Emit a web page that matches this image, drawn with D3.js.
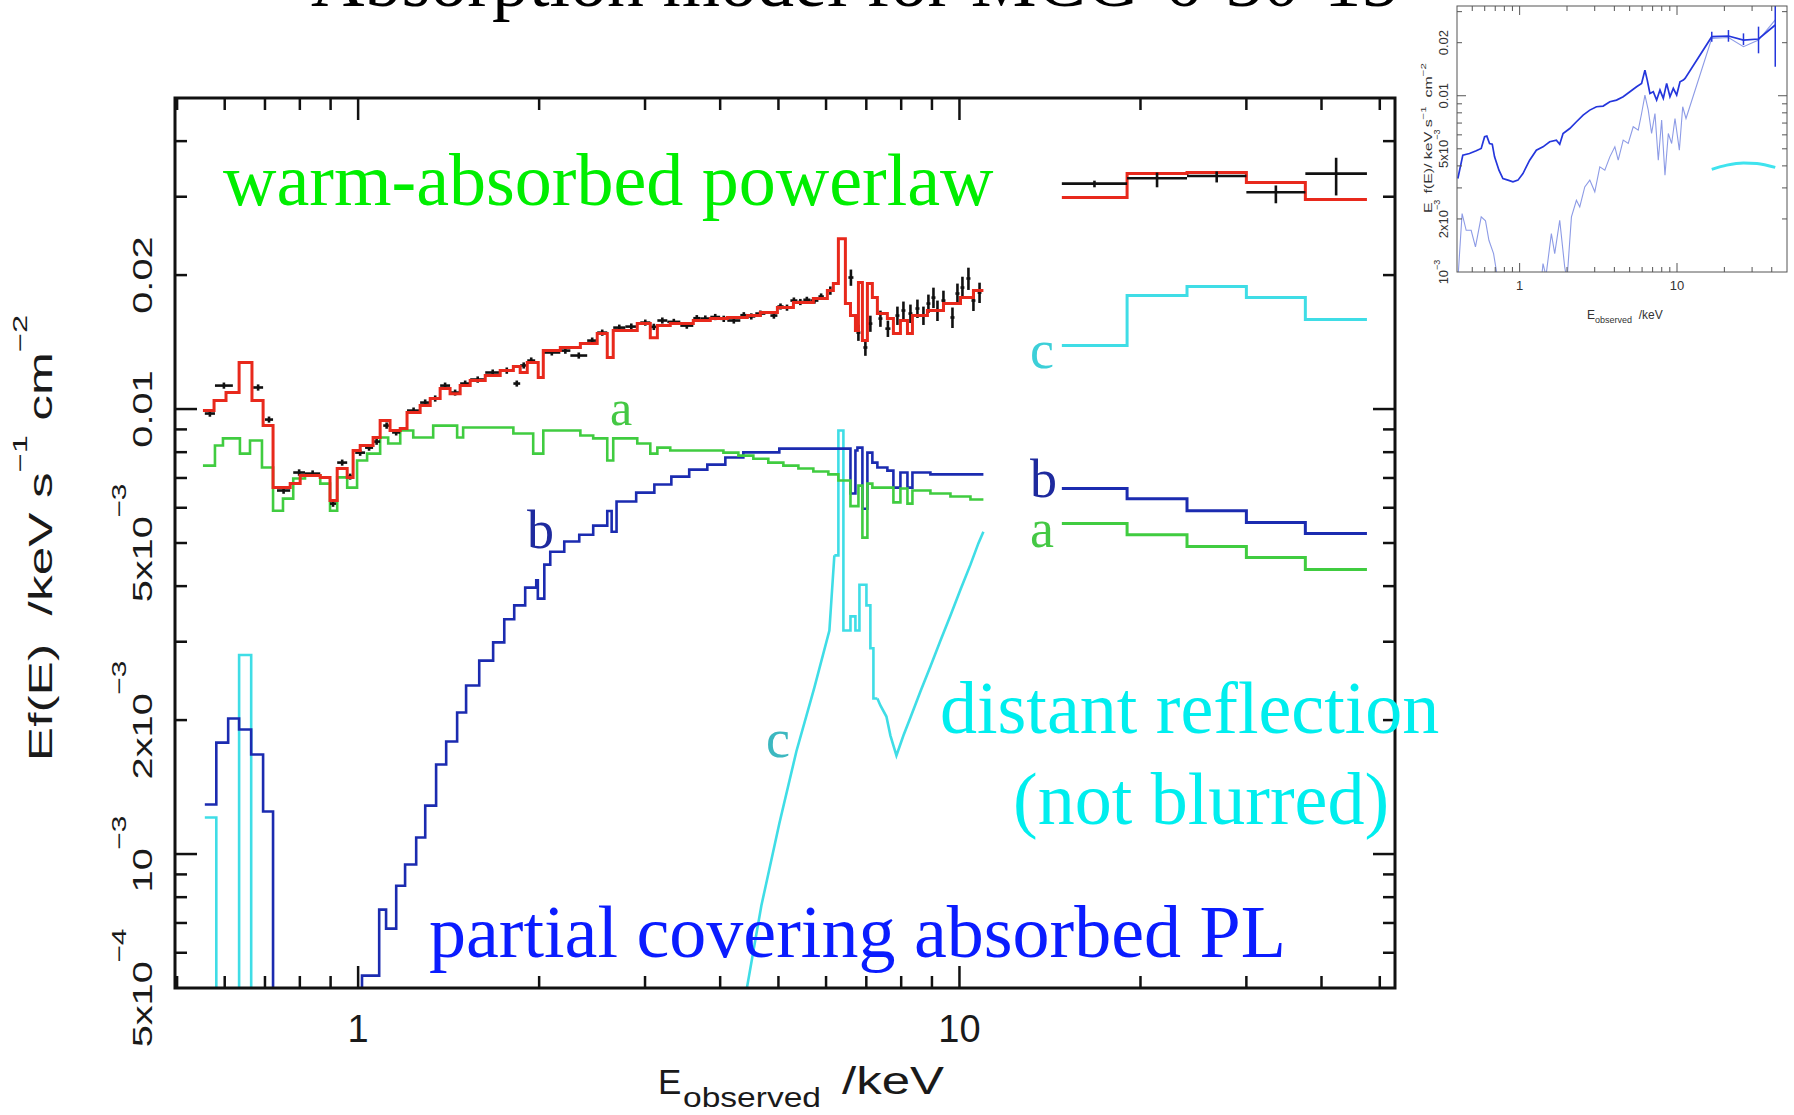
<!DOCTYPE html>
<html><head><meta charset="utf-8">
<script src="https://cdn.jsdelivr.net/npm/d3@7"></script>
<style>body{margin:0;background:#fff;overflow:hidden}svg{display:block;background:#fff}</style>
</head><body>
<svg id="c" width="1794" height="1115"></svg>
<script>
// ---------------- DATA (keV, keV s^-1 cm^-2) ----------------
const xTickVals = [1, 10];
const xTickLabels = ["1", "10"];
const yTickVals = [5e-4, 1e-3, 2e-3, 5e-3, 0.01, 0.02];
const yTickMant = ["5x10", "10", "2x10", "5x10", "0.01", "0.02"];
const yTickExp = ["\u22124", "\u22123", "\u22123", "\u22123", "", ""];

// total model (red), step bins [E_left, flux]; last point = right edge
const modelTotalXMM = [[0.552,0.00992],[0.576,0.01045],[0.603,0.01089],[0.634,0.01272],[0.666,0.01045],[0.695,0.00918],[0.722,0.00666],[0.771,0.00680],[0.801,0.00709],[0.865,0.00702],[0.898,0.00623],[0.923,0.00735],[0.959,0.00702],[0.981,0.00807],[1.008,0.00828],[1.059,0.00863],[1.088,0.00942],[1.130,0.00895],[1.175,0.00904],[1.206,0.00982],[1.268,0.01018],[1.318,0.01056],[1.369,0.01112],[1.422,0.01083],[1.478,0.01129],[1.536,0.01159],[1.627,0.01189],[1.723,0.01220],[1.812,0.01246],[1.860,0.01208],[1.911,0.01272],[1.993,0.01177],[2.032,0.01353],[2.169,0.01375],[2.342,0.01404],[2.498,0.01478],[2.596,0.01305],[2.656,0.01501],[2.912,0.01556],[3.061,0.01447],[3.145,0.01540],[3.304,0.01556],[3.609,0.01581],[3.852,0.01597],[4.111,0.01606],[4.438,0.01622],[4.665,0.01648],[4.980,0.01691],[5.295,0.01735],[5.715,0.01771],[6.030,0.01846],[6.170,0.01914],[6.290,0.02415],[6.461,0.01726],[6.588,0.01622],[6.714,0.01501],[6.792,0.01924],[6.896,0.01425],[7.029,0.01914],[7.164,0.01780],[7.303,0.01639],[7.588,0.01597],[7.765,0.01478],[7.977,0.01581],[8.194,0.01478],[8.352,0.01622],[8.846,0.01665],[9.406,0.01726],[10.04,0.01780],[10.55,0.01846],[10.96,0.01846]];
const modelTotalBAT = [[14.8,0.02988],[19.0,0.03382],[23.9,0.0340],[30.0,0.0323],[37.6,0.02956],[47.6,0.02956]];

// observed data [E_lo, E_hi, flux, flux error]
const dataXMM = [[0.556,0.578,0.00977,0.00016],[0.578,0.619,0.01129,0.00018],[0.669,0.695,0.01118,0.00018],[0.700,0.722,0.00947,0.00015],[0.733,0.771,0.00656,0.00011],[0.780,0.816,0.00720,0.00012],[0.816,0.865,0.00716,0.00012],[0.898,0.919,0.00613,0.00010],[0.923,0.959,0.00758,0.00012],[0.959,0.981,0.00705,0.00011],[0.989,1.027,0.00798,0.00013],[1.027,1.059,0.00819,0.00013],[1.059,1.088,0.00845,0.00014],[1.101,1.130,0.00918,0.00015],[1.139,1.175,0.00886,0.00014],[1.206,1.268,0.00992,0.00016],[1.268,1.318,0.01034,0.00017],[1.318,1.369,0.01056,0.00017],[1.369,1.422,0.01129,0.00018],[1.422,1.478,0.01089,0.00017],[1.478,1.536,0.01141,0.00018],[1.536,1.627,0.01165,0.00019],[1.627,1.723,0.01208,0.00019],[1.723,1.812,0.01220,0.00020],[1.812,1.860,0.01141,0.00018],[1.860,1.911,0.01253,0.00020],[1.911,1.970,0.01285,0.00021],[2.032,2.169,0.01340,0.00021],[2.169,2.254,0.01353,0.00022],[2.254,2.404,0.01319,0.00021],[2.404,2.498,0.01425,0.00023],[2.498,2.596,0.01485,0.00024],[2.656,2.782,0.01524,0.00024],[2.782,2.912,0.01532,0.00025],[2.946,3.061,0.01564,0.00025],[3.061,3.145,0.01530,0.00025],[3.145,3.267,0.01581,0.00025],[3.267,3.434,0.01570,0.00025],[3.434,3.609,0.01540,0.00025],[3.609,3.707,0.01600,0.00026],[3.707,3.852,0.01597,0.00026],[3.852,4.000,0.01610,0.00026],[4.000,4.111,0.01595,0.00026],[4.111,4.321,0.01581,0.00025],[4.321,4.438,0.01625,0.00026],[4.438,4.576,0.01615,0.00026],[4.576,4.756,0.01639,0.00026],[4.848,4.980,0.01622,0.00026],[4.980,5.100,0.01700,0.00027],[5.100,5.234,0.01690,0.00027],[5.234,5.376,0.01753,0.00028],[5.376,5.500,0.01740,0.00028],[5.500,5.650,0.01760,0.00028],[5.650,5.827,0.01753,0.00028],[5.827,5.950,0.01790,0.00029],[6.030,6.170,0.01846,0.00040],[6.536,6.663,0.01975,0.00083],[6.740,6.843,0.01485,0.00062],[6.922,7.029,0.01375,0.00058],[7.056,7.164,0.01556,0.00065],[7.333,7.445,0.01597,0.00067],[7.530,7.677,0.01516,0.00064],[7.826,7.946,0.01622,0.00077],[8.008,8.131,0.01665,0.00079],[8.226,8.352,0.01639,0.00078],[8.449,8.579,0.01682,0.00080],[8.646,8.778,0.01622,0.00077],[8.812,8.947,0.01726,0.00082],[8.983,9.122,0.01780,0.00094],[9.122,9.263,0.01665,0.00088],[9.333,9.478,0.01753,0.00092],[9.661,9.811,0.01606,0.00085],[9.847,10.00,0.01818,0.00096],[10.04,10.19,0.01875,0.00108],[10.27,10.43,0.01965,0.00113],[10.47,10.63,0.01753,0.00092],[10.72,10.88,0.01827,0.00096]];
// BAT data [E_lo, E_hi, flux, flux_low, flux_high]
const dataBAT = [[14.8,19.0,0.0321,0.0315,0.0326],[19.0,23.9,0.0330,0.0315,0.0340],[23.9,30.0,0.0334,0.0323,0.0342],[30.0,37.6,0.0307,0.0290,0.0318],[37.6,47.6,0.0338,0.0302,0.0367]];

// component a: warm-absorbed powerlaw (green)
const compA_XMM = [[0.552,0.00746],[0.578,0.00828],[0.596,0.00859],[0.636,0.00794],[0.661,0.00850],[0.692,0.00739],[0.722,0.00591],[0.750,0.00629],[0.780,0.00698],[0.816,0.00709],[0.865,0.00680],[0.898,0.00591],[0.923,0.00702],[0.959,0.00666],[0.996,0.00766],[1.035,0.00794],[1.088,0.00863],[1.122,0.00837],[1.175,0.00895],[1.235,0.00863],[1.333,0.00918],[1.461,0.00863],[1.495,0.00909],[1.812,0.00881],[1.955,0.00794],[2.032,0.00895],[2.342,0.00872],[2.460,0.00859],[2.596,0.00766],[2.656,0.00859],[2.912,0.00837],[3.061,0.00794],[3.145,0.00819],[3.304,0.00807],[4.050,0.00798],[4.289,0.00786],[4.542,0.00773],[4.810,0.00758],[5.095,0.00746],[5.397,0.00735],[5.715,0.00724],[6.053,0.00713],[6.290,0.00691],[6.588,0.00605],[6.792,0.00673],[6.896,0.00514],[7.029,0.00680],[7.164,0.00666],[7.765,0.00617],[7.977,0.00663],[8.194,0.00613],[8.352,0.00656],[8.947,0.00646],[9.661,0.00636],[10.43,0.00626],[10.96,0.00626]];
const compA_BAT = [[14.8,0.00553],[19.0,0.00522],[23.9,0.00491],[30.0,0.00464],[37.6,0.00436],[47.6,0.00436]];

// component b: partial covering absorbed PL (blue); 3e-4 = below the plotted range
const compB_low = [[0.556,1.292e-3],[0.581,1.780e-3],[0.608,2.016e-3],[0.634,1.905e-3],[0.664,1.674e-3],[0.695,1.246e-3],[0.722,3e-4]];
const compB_XMM = [[0.95,3e-4],[1.015,5.33e-4],[1.084,7.50e-4],[1.113,6.80e-4],[1.157,8.49e-4],[1.197,9.47e-4],[1.249,1.089e-3],[1.293,1.285e-3],[1.348,1.589e-3],[1.401,1.790e-3],[1.461,2.080e-3],[1.512,2.392e-3],[1.590,2.72e-3],[1.677,2.99e-3],[1.750,3.37e-3],[1.818,3.62e-3],[1.896,3.97e-3],[1.978,4.12e-3],[1.990,3.75e-3],[2.040,4.47e-3],[2.087,4.78e-3],[2.202,5.04e-3],[2.332,5.22e-3],[2.460,5.47e-3],[2.596,5.90e-3],[2.640,5.30e-3],[2.690,6.20e-3],[2.900,6.49e-3],[3.109,6.77e-3],[3.318,7.05e-3],[3.553,7.31e-3],[3.808,7.50e-3],[4.080,7.78e-3],[4.371,7.99e-3],[5.017,8.15e-3],[6.588,6.46e-3],[6.714,8.07e-3],[6.766,8.19e-3],[6.896,5.97e-3],[7.029,7.98e-3],[7.164,7.58e-3],[7.303,7.39e-3],[7.588,7.27e-3],[7.765,6.66e-3],[7.977,7.20e-3],[8.194,6.66e-3],[8.352,7.20e-3],[8.947,7.13e-3],[10.96,7.13e-3]];
const compB_BAT = [[14.8,0.00663],[19.0,0.00629],[23.9,0.00591],[30.0,0.00556],[37.6,0.00525],[47.6,0.00525]];

// component c: distant reflection (cyan)
const compC_low = [[0.556,1.208e-3],[0.581,3e-4],[0.634,2.80e-3],[0.664,3e-4]];
const compC_rise = [[4.20,3e-4],[4.371,4.5e-4],[4.684,7.66e-4],[5.017,1.171e-3],[5.355,1.700e-3],[5.737,2.366e-3],[6.077,3.18e-3],[6.194,4.69e-3]];
const compC_XMM = [[6.194,4.69e-3],[6.290,8.95e-3],[6.412,3.18e-3],[6.588,3.42e-3],[6.714,3.18e-3],[6.818,4.03e-3],[7.003,3.62e-3],[7.110,2.90e-3],[7.193,2.236e-3],[7.303,2.236e-3]];
const compC_fall = [[7.303,2.236e-3],[7.388,2.157e-3],[7.56,2.037e-3],[7.677,1.846e-3],[7.856,1.665e-3],[8.069,1.846e-3],[8.289,2.026e-3],[8.611,2.318e-3],[8.947,2.638e-3],[9.299,3.018e-3],[9.661,3.436e-3],[10.04,3.93e-3],[10.43,4.47e-3],[10.75,4.99e-3],[10.96,5.30e-3]];
const compC_BAT = [[14.8,0.01389],[19.0,0.01799],[23.9,0.01885],[30.0,0.01781],[37.6,0.01589],[47.6,0.01589]];

// inset (top right)
const insetXTicks = [1, 10];
const insetYTickVals = [1e-3, 2e-3, 5e-3, 0.01, 0.02];
const insetYTickMant = ["10", "2x10", "5x10", "0.01", "0.02"];
const insetYTickExp = ["\u22123", "\u22123", "\u22123", "", ""];
const insetTotal = [[0.405,0.00339],[0.4355,0.00460],[0.480,0.00470],[0.530,0.00487],[0.570,0.00502],[0.599,0.00585],[0.619,0.00590],[0.644,0.00536],[0.670,0.00531],[0.693,0.00450],[0.739,0.00378],[0.783,0.00339],[0.843,0.00332],[0.907,0.00325],[0.976,0.00332],[1.050,0.00362],[1.158,0.00431],[1.277,0.00491],[1.408,0.00513],[1.553,0.00548],[1.712,0.00560],[1.798,0.00531],[1.888,0.00611],[2.082,0.00652],[2.296,0.00712],[2.532,0.00777],[2.792,0.00829],[3.078,0.00866],[3.395,0.00874],[3.743,0.00924],[4.127,0.00945],[4.551,0.00987],[5.018,0.01054],[5.535,0.01125],[5.956,0.01175],[6.255,0.01398],[6.471,0.01227],[6.730,0.01031],[7.069,0.01054],[7.422,0.00945],[7.794,0.01077],[8.185,0.00966],[8.596,0.01175],[9.023,0.00987],[9.476,0.01101],[9.952,0.01009],[10.45,0.01201],[10.97,0.01227],[11.25,0.01255],[16.63,0.02163],[21.23,0.02183],[26.45,0.02071],[32.96,0.02099],[42.1,0.02520]];
const insetTotalErr = [[16.63,0.02026,0.02310],[21.23,0.02026,0.02359],[26.45,0.01939,0.02259],[32.96,0.01741,0.02466],[42.1,0.01462,0.0323]];
const insetFaintLow = [[0.405,9.0e-4],[0.431,2.145e-3],[0.4575,1.724e-3],[0.492,1.724e-3],[0.524,1.387e-3],[0.570,2.053e-3],[0.607,1.95e-3],[0.638,1.513e-3],[0.683,1.271e-3],[0.728,9.0e-4]];
const insetFaint = [[1.374,9.0e-4],[1.408,1.115e-3],[1.47,9.5e-4],[1.591,1.651e-3],[1.671,1.271e-3],[1.798,1.966e-3],[1.934,1.067e-3],[2.0,9.0e-4],[2.134,2.053e-3],[2.296,2.554e-3],[2.41,2.34e-3],[2.594,3.04e-3],[2.792,3.32e-3],[3.004,2.85e-3],[3.232,3.95e-3],[3.478,3.78e-3],[3.743,4.50e-3],[4.028,5.13e-3],[4.23,4.31e-3],[4.551,5.60e-3],[4.898,5.36e-3],[5.27,6.67e-3],[5.672,6.38e-3],[5.956,7.93e-3],[6.255,1.009e-2],[6.568,8.29e-3],[6.896,6.11e-3],[7.244,7.93e-3],[7.606,4.31e-3],[7.987,7.27e-3],[8.387,3.54e-3],[8.806,6.11e-3],[9.248,5.36e-3],[9.712,7.43e-3],[10.35,4.91e-3],[10.87,8.66e-3],[11.41,7.43e-3],[16.63,0.02117],[21.23,0.02140],[26.45,0.01898],[32.96,0.02071],[42.1,0.02691]];
const insetRefl = [[16.63,3.82e-3],[20.72,4.04e-3],[26.45,4.16e-3],[32.2,4.13e-3],[42.1,3.92e-3]];

// ---------------- DRAWING ----------------
const svg = d3.select("#c");
const SERIF = "'Liberation Serif','Times New Roman',serif";
const SANS = "'Liberation Sans',Arial,Helvetica,sans-serif";
const M = {l:175, r:1395, t:98, b:988};
const x = d3.scaleLog().domain([0.496, 53]).range([M.l, M.r]);
const y = d3.scaleLog().domain([5e-4, 0.05]).range([M.b, M.t]);

const defs = svg.append("defs");
defs.append("clipPath").attr("id","clipMain").append("rect")
  .attr("x",M.l).attr("y",M.t).attr("width",M.r-M.l).attr("height",M.b-M.t);

// title (mostly cut off at the top, as in the source slide)
svg.append("text").attr("x",311).attr("y",6).attr("font-family",SERIF).attr("font-size",74)
  .attr("fill","#000").text("Absorption model for MCG-6-30-15");

const gPlot = svg.append("g").attr("clip-path","url(#clipMain)");
const step = d3.line().curve(d3.curveStepAfter).x(d=>x(d[0])).y(d=>y(d[1]));
const lin = d3.line().x(d=>x(d[0])).y(d=>y(d[1]));
function drawPath(gen,data,color,w){
  gPlot.append("path").attr("d",gen(data)).attr("fill","none").attr("stroke",color)
    .attr("stroke-width",w).attr("stroke-linejoin","miter");
}
const CY="#3fdde6", BL="#1b2bb0", GR="#40cc40", RD="#e8291c", BK="#111";
drawPath(step,compC_low,CY,2.6); drawPath(lin,compC_rise,CY,2.6); drawPath(step,compC_XMM,CY,2.6);
drawPath(lin,compC_fall,CY,2.6); drawPath(step,compC_BAT,CY,3);
drawPath(step,compB_low,BL,2.6); drawPath(step,compB_XMM,BL,2.6); drawPath(step,compB_BAT,BL,3);
drawPath(step,compA_XMM,GR,2.6); drawPath(step,compA_BAT,GR,3);

// data crosses
const gData = gPlot.append("g").attr("stroke",BK).attr("stroke-width",2.6);
dataXMM.forEach(d=>{
  const xc = x(Math.sqrt(d[0]*d[1]));
  gData.append("line").attr("x1",x(d[0])).attr("x2",x(d[1])).attr("y1",y(d[2])).attr("y2",y(d[2]));
  gData.append("line").attr("x1",xc).attr("x2",xc).attr("y1",y(d[2]-d[3])).attr("y2",y(d[2]+d[3]));
});
drawPath(step,modelTotalXMM,RD,3); drawPath(step,modelTotalBAT,RD,3);
const gBat = gPlot.append("g").attr("stroke",BK).attr("stroke-width",2.6);
dataBAT.forEach(d=>{
  const xc = x(Math.sqrt(d[0]*d[1]));
  gBat.append("line").attr("x1",x(d[0])).attr("x2",x(d[1])).attr("y1",y(d[2])).attr("y2",y(d[2]));
  gBat.append("line").attr("x1",xc).attr("x2",xc).attr("y1",y(d[3])).attr("y2",y(d[4]));
});

// frame + ticks
const gAx = svg.append("g").attr("stroke","#111").attr("stroke-width",2.5);
gAx.append("rect").attr("x",M.l).attr("y",M.t).attr("width",M.r-M.l).attr("height",M.b-M.t).attr("fill","none").attr("stroke-width",3);
const isMajor = v => Math.abs(Math.log10(v)-Math.round(Math.log10(v)))<1e-6;
x.ticks().filter(v=>x(v)>M.l+2 && x(v)<M.r-2).forEach(v=>{
  const L = isMajor(v)?22:12, px=x(v);
  gAx.append("line").attr("x1",px).attr("x2",px).attr("y1",M.b).attr("y2",M.b-L);
  gAx.append("line").attr("x1",px).attr("x2",px).attr("y1",M.t).attr("y2",M.t+L);
});
y.ticks().filter(v=>y(v)>M.t+2 && y(v)<M.b-2).forEach(v=>{
  const L = isMajor(v)?22:12, py=y(v);
  gAx.append("line").attr("x1",M.l).attr("x2",M.l+L).attr("y1",py).attr("y2",py);
  gAx.append("line").attr("x1",M.r).attr("x2",M.r-L).attr("y1",py).attr("y2",py);
});

// tick labels
xTickVals.forEach((v,i)=>{
  svg.append("text").attr("x",x(v)).attr("y",1042).attr("text-anchor","middle")
    .attr("font-family",SANS).attr("font-size",38).attr("fill","#1a1a1a").text(xTickLabels[i]);
});
yTickVals.forEach((v,i)=>{
  const t = svg.append("text").attr("transform",`translate(152,${y(v)}) rotate(-90) scale(1.42,1)`)
    .attr("text-anchor","middle").attr("font-family",SANS).attr("font-size",28).attr("fill","#1a1a1a");
  t.append("tspan").text(yTickMant[i]);
  if (yTickExp[i]) t.append("tspan").attr("dy",-26).attr("dx",-1).attr("font-size",21).text(yTickExp[i]);
});

// axis titles
const yt = svg.append("text").attr("transform","translate(52,538) rotate(-90) scale(1.56,1)")
  .attr("text-anchor","middle").attr("font-family",SANS).attr("font-size",33).attr("fill","#1a1a1a")
  .style("white-space","pre");
yt.append("tspan").text("Ef(E)  /keV s");
yt.append("tspan").attr("dy",-25).attr("font-size",21).text("\u22121");
yt.append("tspan").attr("dy",25).text(" cm");
yt.append("tspan").attr("dy",-25).attr("font-size",21).text("\u22122");

svg.append("text").attr("x",658).attr("y",1094).attr("font-family",SANS).attr("font-size",35).attr("fill","#1a1a1a").text("E");
svg.append("text").attr("x",683).attr("y",1107).attr("font-family",SANS).attr("font-size",28).attr("fill","#1a1a1a")
  .attr("textLength",138).attr("lengthAdjust","spacingAndGlyphs").text("observed");
svg.append("text").attr("x",842).attr("y",1094).attr("font-family",SANS).attr("font-size",38).attr("fill","#1a1a1a")
  .attr("textLength",102).attr("lengthAdjust","spacingAndGlyphs").text("/keV");

// annotations
function note(txt,xp,yp,size,color){
  svg.append("text").attr("x",xp).attr("y",yp).attr("font-family",SERIF).attr("font-size",size)
    .attr("fill",color).text(txt);
}
note("warm-absorbed powerlaw",223,205,74,"#00ee00");
note("distant reflection",940,733,74,"#00eeee");
note("(not blurred)",1013,824,74,"#00eeee");
note("partial covering absorbed PL",429,957,74,"#0a1cff");
note("a",610,425,50,"#44c844");
note("b",527,548,54,"#1e2a9e");
note("c",766,757,54,"#3cb8c0");
note("c",1030,368,54,"#3ccfd8");
note("b",1030,497,54,"#1e2a9e");
note("a",1030,547,54,"#44c844");

// ---------------- INSET ----------------
const I = {l:1457, r:1787, t:6, b:272};
const ix = d3.scaleLog().domain([0.4, 50]).range([I.l, I.r]);
const iy = d3.scaleLog().domain([1e-3, 0.0323]).range([I.b, I.t]);
defs.append("clipPath").attr("id","clipIn").append("rect")
  .attr("x",I.l).attr("y",I.t).attr("width",I.r-I.l).attr("height",I.b-I.t);
const gIn = svg.append("g").attr("clip-path","url(#clipIn)");
const iline = d3.line().x(d=>ix(d[0])).y(d=>iy(d[1]));
gIn.append("path").attr("d",iline(insetFaintLow)).attr("fill","none").attr("stroke","#8d9be6").attr("stroke-width",1.1);
gIn.append("path").attr("d",iline(insetFaint)).attr("fill","none").attr("stroke","#8d9be6").attr("stroke-width",1.1);
gIn.append("path").attr("d",iline(insetTotal)).attr("fill","none").attr("stroke","#2436dc").attr("stroke-width",1.7);
insetTotalErr.forEach(d=>{
  gIn.append("line").attr("x1",ix(d[0])).attr("x2",ix(d[0])).attr("y1",iy(d[1])).attr("y2",iy(d[2]))
    .attr("stroke","#2436dc").attr("stroke-width",1.5);
});
gIn.append("path").attr("d",d3.line().curve(d3.curveMonotoneX).x(d=>ix(d[0])).y(d=>iy(d[1]))(insetRefl))
  .attr("fill","none").attr("stroke","#3fe3ee").attr("stroke-width",3);

const gIA = svg.append("g").attr("stroke","#555").attr("stroke-width",1);
gIA.append("rect").attr("x",I.l).attr("y",I.t).attr("width",I.r-I.l).attr("height",I.b-I.t).attr("fill","none");
ix.ticks().filter(v=>ix(v)>I.l+1 && ix(v)<I.r-1).forEach(v=>{
  const L = isMajor(v)?9:5, px=ix(v);
  gIA.append("line").attr("x1",px).attr("x2",px).attr("y1",I.b).attr("y2",I.b-L);
  gIA.append("line").attr("x1",px).attr("x2",px).attr("y1",I.t).attr("y2",I.t+L);
});
iy.ticks().filter(v=>iy(v)>I.t+1 && iy(v)<I.b-1).forEach(v=>{
  const L = isMajor(v)?9:5, py=iy(v);
  gIA.append("line").attr("x1",I.l).attr("x2",I.l+L).attr("y1",py).attr("y2",py);
  gIA.append("line").attr("x1",I.r).attr("x2",I.r-L).attr("y1",py).attr("y2",py);
});
insetXTicks.forEach(v=>{
  svg.append("text").attr("x",ix(v)).attr("y",290).attr("text-anchor","middle")
    .attr("font-family",SANS).attr("font-size",13).attr("fill","#333").text(String(v));
});
insetYTickVals.forEach((v,i)=>{
  const t = svg.append("text").attr("transform",`translate(1448,${iy(v)}) rotate(-90)`)
    .attr("text-anchor","middle").attr("font-family",SANS).attr("font-size",13).attr("fill","#333");
  t.append("tspan").text(insetYTickMant[i]);
  if (insetYTickExp[i]) t.append("tspan").attr("dy",-8).attr("font-size",9).text(insetYTickExp[i]);
});
const iyt = svg.append("text").attr("transform","translate(1432,138) rotate(-90)")
  .attr("text-anchor","middle").attr("font-family",SANS).attr("font-size",11).attr("fill","#333")
  .attr("textLength",150).attr("lengthAdjust","spacingAndGlyphs").style("white-space","pre");
iyt.append("tspan").text("E  f(E)/ keV s");
iyt.append("tspan").attr("dy",-6).attr("font-size",8).text("\u22121");
iyt.append("tspan").attr("dy",6).text("  cm");
iyt.append("tspan").attr("dy",-6).attr("font-size",8).text("\u22122");
const ixt = svg.append("text").attr("x",1587).attr("y",319).attr("font-family",SANS).attr("font-size",12).attr("fill","#333").style("white-space","pre");
ixt.append("tspan").text("E");
ixt.append("tspan").attr("dy",4).attr("font-size",9).text("observed");
ixt.append("tspan").attr("dy",-4).text("  /keV");
</script>
</body></html>
